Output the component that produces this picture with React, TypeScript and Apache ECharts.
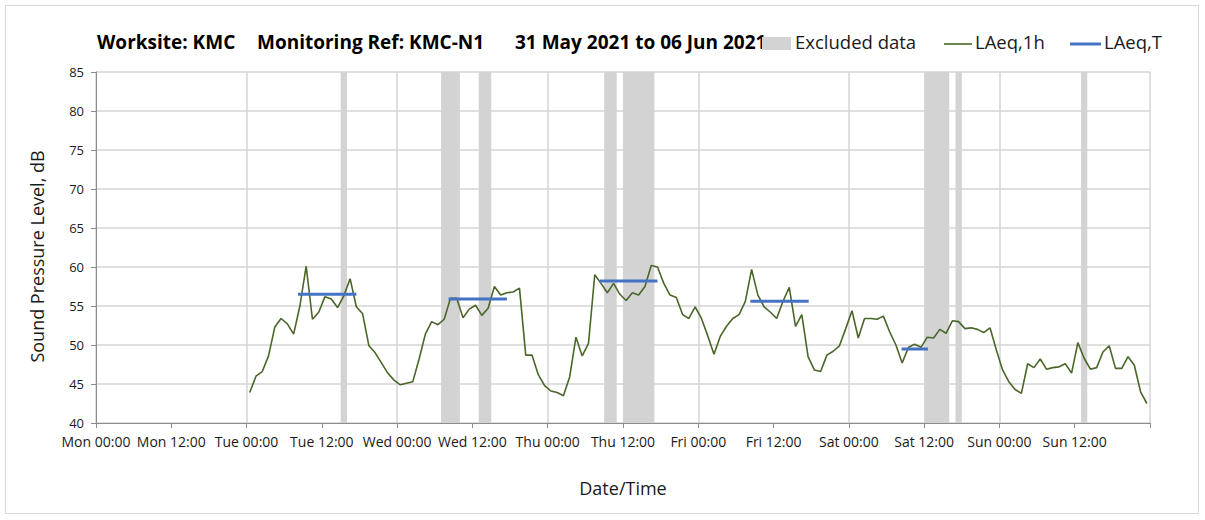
import React, { useEffect, useRef } from "react";
import * as echarts from "echarts";

// ---- data ----
const tickLabels = [
  "Mon 00:00", "Mon 12:00", "Tue 00:00", "Tue 12:00", "Wed 00:00", "Wed 12:00",
  "Thu 00:00", "Thu 12:00", "Fri 00:00", "Fri 12:00", "Sat 00:00", "Sat 12:00",
  "Sun 00:00", "Sun 12:00",
];

// hours counted from Mon 00:00; first hourly value plotted at Tue 00:30
const firstHour = 24.5;

const laeq1hTue = [43.9, 46.0, 46.6, 48.6, 52.3, 53.4, 52.7, 51.4, 55.0, 60.1, 53.3, 54.2, 56.2, 55.9, 54.8, 56.3, 58.5, 54.9, 54.0, 49.9, 49.0, 47.7, 46.4, 45.5];
const laeq1hWed = [44.9, 45.1, 45.3, 48.2, 51.4, 53.0, 52.6, 53.3, 56.0, 56.0, 53.5, 54.6, 55.1, 53.8, 54.7, 57.5, 56.4, 56.7, 56.8, 57.3, 48.7, 48.7, 46.2, 44.8];
const laeq1hThu = [44.1, 43.9, 43.5, 45.9, 51.0, 48.6, 50.2, 59.0, 57.9, 56.7, 57.9, 56.5, 55.7, 56.7, 56.4, 57.5, 60.2, 60.0, 57.9, 56.4, 56.1, 53.9, 53.4, 54.9];
const laeq1hFri = [53.4, 51.2, 48.8, 51.1, 52.4, 53.4, 53.9, 55.6, 59.7, 56.4, 54.9, 54.2, 53.4, 55.6, 57.4, 52.4, 53.9, 48.5, 46.8, 46.6, 48.7, 49.2, 49.9, 52.1];
const laeq1hSat = [54.4, 50.9, 53.4, 53.4, 53.3, 53.7, 51.7, 50.0, 47.7, 49.7, 50.1, 49.7, 51.0, 50.9, 52.0, 51.5, 53.1, 53.0, 52.1, 52.2, 52.0, 51.6, 52.2, 49.4];
const laeq1hSun = [46.8, 45.3, 44.3, 43.8, 47.6, 47.1, 48.2, 46.9, 47.1, 47.2, 47.6, 46.4, 50.3, 48.3, 46.9, 47.1, 49.1, 49.9, 47.0, 47.0, 48.5, 47.4, 44.0, 42.5];

const excludedStart = [39, 55, 61, 81, 84, 132, 137, 157];
const excludedEnd = [40, 58, 63, 83, 89, 136, 138, 158];

const laeqTStart = [32.2, 56.2, 80.3, 104.3, 128.4];
const laeqTEnd = [41.5, 65.5, 89.5, 113.6, 132.6];
const laeqTValue = [56.5, 55.9, 58.2, 55.6, 49.5];

const FONT = "Open Sans";

export default function App() {
  const ref = useRef<HTMLDivElement>(null);

  useEffect(() => {
    if (!ref.current) return;
    const chart = echarts.init(ref.current, null, { renderer: "svg" });

    const laeq1h = [...laeq1hTue, ...laeq1hWed, ...laeq1hThu, ...laeq1hFri, ...laeq1hSat, ...laeq1hSun];
    const lineData = laeq1h.map((v, i) => [firstHour + i, v]);
    const excludedData = excludedStart.map((s, i) => [s, excludedEnd[i]]);

    const tSeries = laeqTStart.map((s, i) => ({
      type: "line",
      name: "LAeq,T",
      xAxisIndex: 0,
      yAxisIndex: 0,
      symbol: "none",
      lineStyle: { color: "#4472C4", width: 3 },
      z: 4,
      data: [
        [s, laeqTValue[i]],
        [laeqTEnd[i], laeqTValue[i]],
      ],
    }));

    const option: any = {
      animation: false,
      backgroundColor: "#ffffff",
      textStyle: { fontFamily: FONT },
      grid: { left: 96, top: 72, width: 1054, height: 351, containLabel: false },
      xAxis: [
        {
          type: "value",
          min: 0,
          max: 168,
          interval: 24,
          position: "bottom",
          axisLine: { show: true, lineStyle: { color: "#8c8c8c" } },
          axisTick: { show: false },
          axisLabel: { show: false },
          splitLine: { show: true, lineStyle: { color: "#d4d4d4", width: 1.5 } },
        },
        {
          type: "value",
          min: 0,
          max: 168,
          interval: 12,
          position: "bottom",
          offset: 0,
          axisLine: { show: false },
          axisTick: { show: true, length: 5, lineStyle: { color: "#8c8c8c" } },
          splitLine: { show: false },
          axisLabel: {
            show: true,
            margin: 11,
            fontSize: 14,
            color: "#1a1a1a",
            fontFamily: FONT,
            formatter: (v: number) => tickLabels[Math.round(v / 12)] ?? "",
          },
          name: "Date/Time",
          nameLocation: "middle",
          nameGap: 56,
          nameTextStyle: { fontSize: 18, color: "#1a1a1a", fontFamily: FONT },
        },
      ],
      yAxis: {
        type: "value",
        min: 40,
        max: 85,
        interval: 5,
        axisLine: { show: true, lineStyle: { color: "#8c8c8c" } },
        axisTick: { show: true, length: 5, lineStyle: { color: "#8c8c8c" } },
        axisLabel: { fontSize: 13, color: "#1a1a1a", margin: 12, fontFamily: FONT },
        splitLine: { show: true, lineStyle: { color: "#d4d4d4", width: 1.5 } },
        name: "Sound Pressure Level, dB",
        nameLocation: "middle",
        nameGap: 50,
        nameTextStyle: {
          fontSize: 18,
          color: "#1a1a1a",
          fontFamily: FONT,
          padding: [0, 18, 0, 0],
        },
      },
      series: [
        {
          type: "custom",
          name: "Excluded data",
          xAxisIndex: 0,
          yAxisIndex: 0,
          z: 2,
          encode: { x: [0, 1] },
          renderItem: (params: any, api: any) => {
            const p0 = api.coord([api.value(0), 85]);
            const p1 = api.coord([api.value(1), 40]);
            return {
              type: "rect",
              shape: { x: p0[0], y: p0[1], width: p1[0] - p0[0], height: p1[1] - p0[1] },
              style: { fill: "#d3d3d3" },
            };
          },
          data: excludedData,
        },
        {
          type: "line",
          name: "LAeq,1h",
          xAxisIndex: 0,
          yAxisIndex: 0,
          symbol: "none",
          z: 3,
          lineStyle: { color: "#4a6629", width: 1.6 },
          data: lineData,
        },
        ...tSeries,
      ],
      graphic: [
        {
          type: "rect",
          silent: true,
          shape: { x: 5.5, y: 5.5, width: 1193, height: 508 },
          style: { fill: "none", stroke: "#d9d9d9", lineWidth: 1 },
        },
        {
          type: "text",
          left: 97,
          top: 32,
          style: { text: "Worksite: KMC", font: `bold 19px ${FONT}`, fill: "#000" },
        },
        {
          type: "text",
          left: 257,
          top: 32,
          style: { text: "Monitoring Ref: KMC-N1", font: `bold 19px ${FONT}`, fill: "#000" },
        },
        {
          type: "text",
          left: 515,
          top: 32,
          style: { text: "31 May 2021 to 06 Jun 2021", font: `bold 19px ${FONT}`, fill: "#000" },
        },
        {
          type: "rect",
          shape: { x: 762, y: 37, width: 29, height: 13 },
          style: { fill: "#d3d3d3" },
        },
        {
          type: "text",
          left: 795,
          top: 32,
          style: { text: "Excluded data", font: `18.5px ${FONT}`, fill: "#1a1a1a" },
        },
        {
          type: "line",
          shape: { x1: 944, y1: 44, x2: 972, y2: 44 },
          style: { stroke: "#4a6629", lineWidth: 1.6 },
        },
        {
          type: "text",
          left: 975,
          top: 32,
          style: { text: "LAeq,1h", font: `18.5px ${FONT}`, fill: "#1a1a1a" },
        },
        {
          type: "line",
          shape: { x1: 1070, y1: 44, x2: 1101, y2: 44 },
          style: { stroke: "#4472C4", lineWidth: 3 },
        },
        {
          type: "text",
          left: 1104,
          top: 32,
          style: { text: "LAeq,T", font: `18.5px ${FONT}`, fill: "#1a1a1a" },
        },
      ],
    };

    chart.setOption(option);
    return () => chart.dispose();
  }, []);

  return (
    <div
      ref={ref}
      style={{ position: "fixed", left: 0, top: 0, width: 1205, height: 520, background: "#fff" }}
    />
  );
}
